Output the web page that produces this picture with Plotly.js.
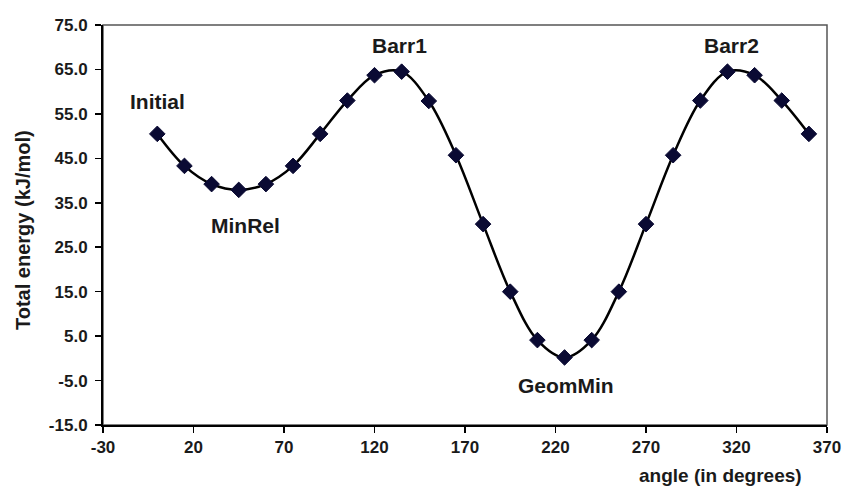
<!DOCTYPE html>
<html>
<head>
<meta charset="utf-8">
<script src="https://cdn.plot.ly/plotly-3.0.1.min.js"></script>
<style>html,body{margin:0;padding:0;background:#fff;}#chart{width:843px;height:492px;}</style>
</head>
<body>
<div id="chart"></div>
<script>
// Data
const angles = [0, 15, 30, 45, 60, 75, 90, 105, 120, 135, 150, 165, 180, 195, 210, 225, 240, 255, 270, 285, 300, 315, 330, 345, 360];
const energies = [50.5, 43.3, 39.2, 37.9, 39.2, 43.3, 50.5, 58.0, 63.7, 64.5, 57.9, 45.7, 30.2, 15.0, 4.1, 0.2, 4.1, 15.0, 30.2, 45.7, 58.0, 64.5, 63.7, 58.0, 50.5];
const labelTexts = ["Initial", "MinRel", "Barr1", "Barr2", "GeomMin"];
const labelX = [0, 49, 134, 317, 226];
const labelY = [57.7, 30, 70.5, 70.5, -6];
const xTicks = [-30, 20, 70, 120, 170, 220, 270, 320, 370];
const yTicks = [-15, -5, 5, 15, 25, 35, 45, 55, 65, 75];

const FONT = "Liberation Sans, Arial, sans-serif";
const TXT = "#1a1a1a";

const trace = {
  x: angles, y: energies, type: "scatter", mode: "lines+markers",
  line: {color: "#000000", width: 2.5, shape: "spline", smoothing: 1},
  marker: {symbol: "diamond", size: 12, color: "#0a0a33", line: {color: "#0a0a33", width: 1}},
  showlegend: false, hoverinfo: "x+y"
};

const annotations = labelTexts.map((t, i) => ({
  x: labelX[i], y: labelY[i], xref: "x", yref: "y", text: "<b>" + t + "</b>",
  showarrow: false, font: {family: FONT, size: 21, color: TXT}
}));
const pw = 843 - 103 - 16, ph = 492 - 25 - 67;
annotations.push({
  x: (720 - 103) / pw, y: (492 - 67 - 475) / ph, xref: "paper", yref: "paper",
  text: "<b>angle (in degrees)</b>",
  showarrow: false, font: {family: FONT, size: 19, color: TXT}, xanchor: "center", yanchor: "middle"
});
annotations.push({
  x: (23 - 103) / pw, y: (492 - 67 - 230) / ph, xref: "paper", yref: "paper",
  text: "<b>Total energy (kJ/mol)</b>", textangle: -90,
  showarrow: false, font: {family: FONT, size: 20, color: TXT}, xanchor: "center", yanchor: "middle"
});

const layout = {
  width: 843, height: 492,
  margin: {l: 103, r: 16, t: 25, b: 67},
  paper_bgcolor: "#ffffff", plot_bgcolor: "#ffffff",
  font: {family: FONT, color: TXT},
  xaxis: {
    range: [-30, 370], tickvals: xTicks, ticktext: xTicks.map(v => "<b>" + v + "</b>"),
    showgrid: false, zeroline: false, showline: true, linecolor: "#000", linewidth: 2,
    ticks: "outside", ticklen: 6, tickwidth: 1.5, tickcolor: "#000",
    tickfont: {family: FONT, size: 17, color: TXT}
  },
  yaxis: {
    range: [-15, 75], tickvals: yTicks, ticktext: yTicks.map(v => "<b>" + v.toFixed(1) + "</b>"),
    showgrid: false, zeroline: false, showline: true, linecolor: "#000", linewidth: 2,
    ticks: "outside", ticklen: 6, tickwidth: 1.5, tickcolor: "#000",
    tickfont: {family: FONT, size: 17, color: TXT}, ticklabelstandoff: 4
  },
  shapes: [{
    type: "rect", xref: "paper", yref: "paper", x0: 0, x1: 1, y0: 0, y1: 1,
    line: {color: "#555555", width: 1.5}, layer: "below"
  }],
  annotations: annotations
};

Plotly.newPlot("chart", [trace], layout, {displayModeBar: false, staticPlot: true});
</script>
</body>
</html>
